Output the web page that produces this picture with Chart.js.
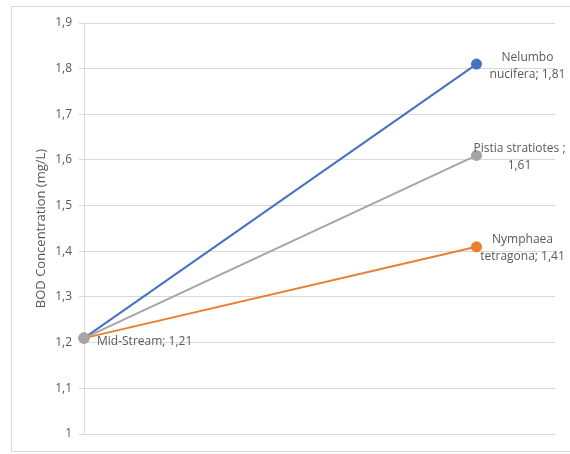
<!DOCTYPE html>
<html>
<head>
<meta charset="utf-8">
<script src="https://cdn.jsdelivr.net/npm/chart.js@4/dist/chart.umd.min.js"></script>
<style>
    html, body { margin: 0; padding: 0; background: #fff; }
</style>
</head>
<body>
<canvas id="bodChart" width="570" height="454"></canvas>
<script>
// --- data ---
// x positions of the two sampling points (0 = mid-stream, 1 = after plant)
const stages = [0, 1];
const seriesNames = ['Nelumbo nucifera', 'Nymphaea tetragona', 'Pistia stratiotes'];
const nelumboValues = [1.21, 1.81];
const nymphaeaValues = [1.21, 1.41];
const pistiaValues = [1.21, 1.61];
const yTicks = [1, 1.1, 1.2, 1.3, 1.4, 1.5, 1.6, 1.7, 1.8, 1.9];

// data label text, one entry per point (null = no label)
const nelumboLabels = [null, ['Nelumbo', 'nucifera; 1,81']];
const nymphaeaLabels = [null, ['Nymphaea', 'tetragona; 1,41']];
const pistiaLabels = [['Mid-Stream; 1,21'], ['Pistia stratiotes ;', '1,61']];

const fmt = v => (Math.round(v * 10) / 10).toString().replace('.', ',');
const toPoints = vals => stages.map((x, i) => ({ x: x, y: vals[i] }));

// label placement relative to the point
const labelStyle = {
    0: [null, { dx: 51, dy: -7, align: 'center' }],
    1: [null, { dx: 46, dy: -7, align: 'center' }],
    2: [{ dx: 13, dy: 3, align: 'left' }, { dx: 43, dy: -7, align: 'center' }]
};

const frameAndLabels = {
    id: 'frameAndLabels',
    beforeDraw(chart) {
        const ctx = chart.ctx;
        ctx.save();
        ctx.strokeStyle = '#d9d9d9';
        ctx.lineWidth = 1;
        ctx.strokeRect(11.5, 6.5, 620, 445);
        ctx.restore();
    },
    afterDatasetsDraw(chart) {
        const ctx = chart.ctx;
        ctx.save();
        ctx.font = '12px "Open Sans"';
        ctx.fillStyle = '#595959';
        ctx.textBaseline = 'middle';
        chart.data.datasets.forEach((ds, i) => {
            const meta = chart.getDatasetMeta(i);
            ds.pointLabels.forEach((lines, j) => {
                if (!lines) return;
                const st = labelStyle[i][j];
                const pt = meta.data[j];
                ctx.textAlign = st.align;
                lines.forEach((line, k) => {
                    ctx.fillText(line, pt.x + st.dx, pt.y + st.dy + k * 17);
                });
            });
        });
        ctx.restore();
    }
};

const lineStyle = color => ({
    borderColor: color,
    backgroundColor: color,
    pointBackgroundColor: color,
    pointBorderColor: color,
    borderWidth: 2,
    pointRadius: 4.5,
    pointHoverRadius: 4.5,
    tension: 0,
    clip: false
});

new Chart(document.getElementById('bodChart').getContext('2d'), {
    type: 'line',
    data: {
        datasets: [
            Object.assign({ label: seriesNames[0], data: toPoints(nelumboValues), pointLabels: nelumboLabels, order: 2 }, lineStyle('#4472c4')),
            Object.assign({ label: seriesNames[1], data: toPoints(nymphaeaValues), pointLabels: nymphaeaLabels, order: 1 }, lineStyle('#ed7d31')),
            Object.assign({ label: seriesNames[2], data: toPoints(pistiaValues), pointLabels: pistiaLabels, order: 0 }, lineStyle('#a5a5a5'))
        ]
    },
    options: {
        responsive: false,
        animation: false,
        devicePixelRatio: 1,
        layout: { padding: { left: 0, right: 15, top: 23, bottom: 20 } },
        plugins: {
            legend: { display: false },
            title: { display: false },
            tooltip: { enabled: false }
        },
        scales: {
            x: {
                type: 'linear',
                min: 0,
                max: 1.2,
                display: false
            },
            y: {
                min: yTicks[0],
                max: yTicks[yTicks.length - 1],
                afterFit: function (scale) { scale.width = 84; },
                afterBuildTicks: function (scale) {
                    scale.ticks = yTicks.map(v => ({ value: v }));
                },
                ticks: {
                    padding: 7,
                    color: '#595959',
                    font: { family: 'Open Sans', size: 12 },
                    callback: function (value) { return fmt(value); }
                },
                grid: { color: '#d9d9d9', tickLength: 5, lineWidth: 1 },
                border: { display: true, color: '#d9d9d9' },
                title: {
                    display: true,
                    text: 'BOD Concentration (mg/L)',
                    color: '#595959',
                    font: { family: 'Open Sans', size: 13 },
                    padding: { top: 33, bottom: 0 }
                }
            }
        }
    },
    plugins: [frameAndLabels]
});
</script>
</body>
</html>
